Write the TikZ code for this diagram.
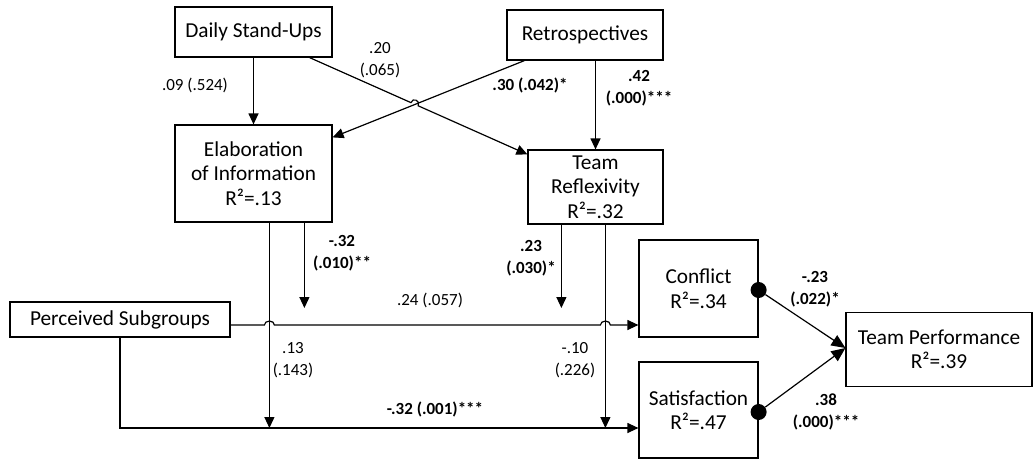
\documentclass[tikz,border=0pt]{standalone}
\usepackage{fontspec}
\setmainfont{Carlito}
\usetikzlibrary{arrows.meta,calc}
\begin{document}
\begin{tikzpicture}[x=1pt,y=-1pt,
  box/.style={draw,line width=1.2pt,align=center,inner sep=0pt,font=\fontsize{21.3}{24.5}\selectfont},
  lab/.style={align=center,font=\fontsize{17}{22}\selectfont},
  blab/.style={align=center,font=\bfseries\fontsize{17}{22}\selectfont},
  arr/.style={line width=1.2pt,-{Triangle[length=11pt,width=10pt]}},
  bigarr/.style={line width=1.2pt,-{Triangle[length=14pt,width=12pt]}},
  dot/.style={circle,fill=black,inner sep=0pt,minimum size=16pt}
]
\useasboundingbox (0,0) rectangle (1033,459);

\node[box,minimum width=157pt,minimum height=50pt] (dsu) at (253.5,32) {Daily Stand-Ups};
\node[box,minimum width=156pt,minimum height=50pt] (retro) at (585,35) {Retrospectives};
\node[box,minimum width=157pt,minimum height=97pt] (elab) at (253.5,173.5) {Elaboration\\of Information\\R²=.13};
\node[box,minimum width=135pt,minimum height=74pt] (refl) at (595.5,187) {Team\\Reflexivity\\R²=.32};
\node[box,minimum width=220pt,minimum height=35pt] (subg) at (120,319.5) {Perceived Subgroups};
\node[box,minimum width=119pt,minimum height=97pt] (conf) at (698.5,288.5) {Conflict\\R²=.34};
\node[box,minimum width=119pt,minimum height=96pt] (sat) at (698.5,410) {Satisfaction\\R²=.47};
\node[box,minimum width=186pt,minimum height=74pt] (perf) at (939,349.5) {Team Performance\\R²=.39};

\coordinate (eA) at ($(elab.south west)+(95,0)$);
\coordinate (eB) at ($(elab.south west)+(130,0)$);
\coordinate (rA) at ($(refl.south west)+(34,0)$);
\coordinate (rB) at ($(refl.south west)+(78,0)$);
\coordinate (confin) at ($(conf.west)+(0,36.5)$);
\coordinate (satin) at ($(sat.west)+(0,18)$);
\coordinate (dsuOut) at ($(dsu.south east)+(-23,0)$);
\coordinate (reflIn) at ($(refl.north west)+(0,5)$);
\coordinate (retroOut) at ($(retro.south west)+(18,0)$);
\coordinate (elabIn) at ($(elab.north east)+(0,13)$);

% top arrows
\draw[arr] (dsu.south) -- (elab.north);
\draw[arr] (dsuOut) -- (410.9,102.6) .. controls (412.9,97.2) and (420.2,100.4) .. (418.2,105.8) -- (reflIn);
\draw[arr] (retroOut) -- (elabIn);
\draw[arr] (refl.north |- retro.south) -- (refl.north);

% middle horizontal with jumps
\draw[arr] (subg.east |- confin) -- ($(eA |- confin)+(-5,0)$)
  arc[start angle=180,end angle=0,x radius=5pt,y radius=4pt]
  -- ($(rB |- confin)+(-5,0)$)
  arc[start angle=180,end angle=0,x radius=5pt,y radius=4pt]
  -- (confin);

% verticals
\draw[arr] (eA) -- (eA |- satin);
\draw[arr] (eB) -- ($(eB |- confin)+(0,-17)$);
\draw[arr] (rA) -- ($(rA |- confin)+(0,-17)$);
\draw[arr] (rB) -- (rB |- satin);
\draw[arr] (subg.south) -- (subg.south |- satin) -- (satin);

% outcomes
\node[dot] (cd) at ($(conf.east)+(0,1.5)$) {};
\node[dot] (sd) at ($(sat.east)+(0,2)$) {};
\draw[bigarr] (cd) -- ($(perf.west)+(0,-1.5)$);
\draw[bigarr] (sd) -- ($(perf.west)+(0,-1.5)$);

% labels
\node[lab] (l1) at (195,85) {.09 (.524)};
\node[lab] (l2) at (380,60) {.20\\(.065)};
\node[blab] (l3) at (530,85) {.30 (.042)*};
\node[blab] (l4) at (639,88) {.42\\(.000)***};
\node[blab] (l5) at (342,253) {-.32\\(.010)**};
\node[lab] (l6) at (293,360) {.13\\(.143)};
\node[lab] (l7) at (430,300) {.24 (.057)};
\node[blab] (l8) at (531,258) {.23\\(.030)*};
\node[lab] (l9) at (575,360) {-.10\\(.226)};
\node[blab] (l10) at (435,409) {-.32 (.001)***};
\node[blab] (l11) at (815,289) {-.23\\(.022)*};
\node[blab] (l12) at (826,412) {.38\\(.000)***};
\end{tikzpicture}
\end{document}
